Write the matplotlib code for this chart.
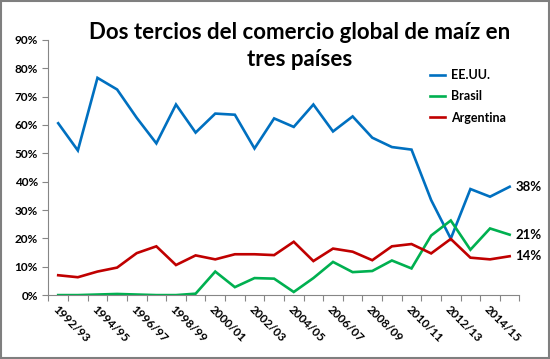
import matplotlib.pyplot as plt
from matplotlib.ticker import FixedLocator, FuncFormatter
from matplotlib.patches import Rectangle

plt.rcParams['font.family'] = ['Lato', 'DejaVu Sans']

seasons = ["1992/93", "1993/94", "1994/95", "1995/96", "1996/97", "1997/98",
           "1998/99", "1999/00", "2000/01", "2001/02", "2002/03", "2003/04",
           "2004/05", "2005/06", "2006/07", "2007/08", "2008/09", "2009/10",
           "2010/11", "2011/12", "2012/13", "2013/14", "2014/15", "2015/16"]

eeuu = [60.6, 51.0, 76.6, 72.5, 62.5, 53.5, 67.2, 57.3, 64.0, 63.6, 51.7, 62.3,
        59.3, 67.2, 57.7, 63.0, 55.5, 52.2, 51.3, 33.5, 19.9, 37.4, 34.7, 38.2]
brasil = [0.0, 0.0, 0.2, 0.4, 0.2, 0.0, 0.0, 0.5, 8.3, 2.8, 6.0, 5.8,
          1.1, 6.0, 11.7, 8.1, 8.5, 12.2, 9.4, 21.0, 26.3, 16.0, 23.5, 21.3]
argentina = [7.0, 6.3, 8.3, 9.7, 14.8, 17.2, 10.6, 14.0, 12.6, 14.4, 14.4, 14.1,
             18.8, 12.0, 16.4, 15.3, 12.3, 17.2, 18.0, 14.7, 19.8, 13.2, 12.6, 13.7]

series = [("EE.UU.", eeuu, "#0070C0"),
          ("Brasil", brasil, "#00B050"),
          ("Argentina", argentina, "#C00000")]

fig = plt.figure(figsize=(5.5, 3.59), dpi=100)
ax = fig.add_axes([0.088, 0.178, 0.8565, 0.711])

x = list(range(len(seasons)))
for name, vals, col in series:
    ax.plot(x, vals, color=col, lw=1.9, label=name, solid_joinstyle='miter')
    ax.text(len(seasons) - 0.7, vals[-1], "%d%%" % round(vals[-1]),
            ha='left', va='center', fontsize=9.5, fontweight='bold', color='black')

ax.set_xlim(-0.5, len(seasons) - 0.5)
ax.set_ylim(0, 90)
ax.yaxis.set_major_locator(FixedLocator(range(0, 91, 10)))
ax.yaxis.set_major_formatter(FuncFormatter(lambda v, p: "%d%%" % v))

ax.set_xticks(x[::2])
ax.set_xticklabels(seasons[::2], rotation=-45, ha='left', va='top',
                   rotation_mode='anchor', fontsize=8.5, fontweight='bold')
ax.set_xticks([i - 0.5 for i in range(len(seasons) + 1)], minor=True)
ax.tick_params(axis='x', which='major', length=0, pad=6)
ax.tick_params(axis='x', which='minor', length=4, color='#868686', width=0.8)
ax.tick_params(axis='y', length=4, color='#868686', width=0.8, labelsize=8.5)
for lab in ax.get_yticklabels():
    lab.set_fontweight('bold')

for s in ['top', 'right']:
    ax.spines[s].set_visible(False)
for s in ['left', 'bottom']:
    ax.spines[s].set_color('#868686')
    ax.spines[s].set_linewidth(0.8)

leg = ax.legend(loc='upper left', bbox_to_anchor=(0.795, 0.915), frameon=False,
                prop={'weight': 'bold', 'size': 9}, handlelength=1.2,
                handletextpad=0.45, labelspacing=0.75, borderpad=0.1)

fig.text(0.545, 0.872, "Dos tercios del comercio global de maíz en\ntres países",
         ha='center', va='center', fontsize=16, fontweight='bold',
         linespacing=1.4)

fig.patches.append(Rectangle((0.002, 0.003), 0.996, 0.994, transform=fig.transFigure,
                             fill=False, edgecolor='#7f7f7f', lw=1.5))

fig.savefig("out.png", dpi=100)
